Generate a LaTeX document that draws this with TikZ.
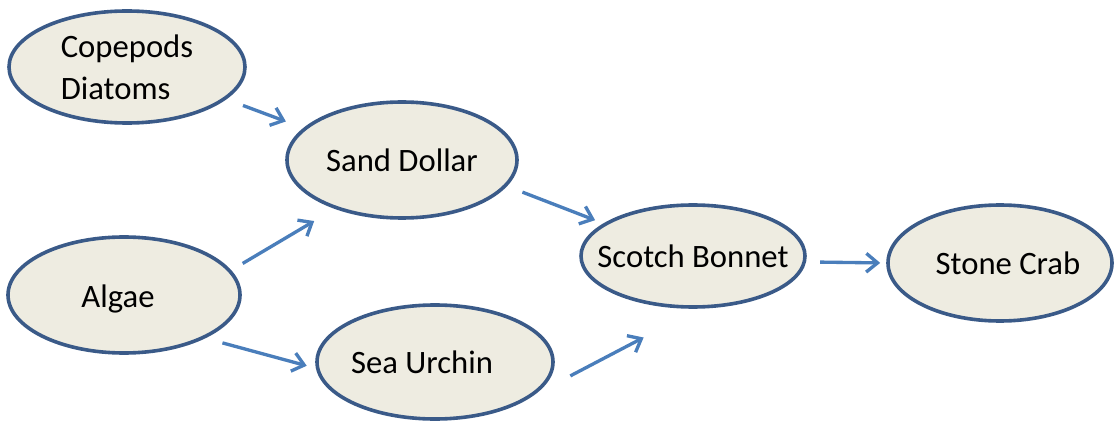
\documentclass[tikz,border=0pt]{standalone}
\usepackage{fontspec}
\setmainfont{Carlito}
\usetikzlibrary{shapes.geometric,arrows.meta}
\definecolor{shellfill}{HTML}{EEECE1}
\definecolor{shelledge}{HTML}{3A5A88}
\definecolor{feedarrow}{HTML}{4A7EBB}
\begin{document}
\begin{tikzpicture}[x=0.75pt,y=-0.75pt,font=\fontsize{24.5}{31.5}\selectfont]
\tikzstyle{species}=[ellipse, draw=shelledge, fill=shellfill, line width=2.7pt, inner sep=0pt]
\tikzstyle{feeds}=[draw=feedarrow, line width=2.5pt, -{Straight Barb[length=8.5pt,width=14pt]}]
\useasboundingbox (0,0) rectangle (1114,424);
\node [species, minimum width=177pt, minimum height=84pt, label={[align=left]center:Copepods\\Diatoms}] (cd) at (127,67) {};
\node [species, minimum width=172.5pt, minimum height=87pt, label={center:Sand Dollar}] (sd) at (402,160) {};
\node [species, minimum width=174pt, minimum height=87pt, label={[xshift=-4.5pt,yshift=-3pt]center:Algae}] (al) at (124,295) {};
\node [species, minimum width=177pt, minimum height=85.5pt, label={[xshift=-9.75pt]center:Sea Urchin}] (su) at (435,362) {};
\node [species, minimum width=168pt, minimum height=76.5pt, label={center:Scotch Bonnet}] (sb) at (693,256) {};
\node [species, minimum width=168pt, minimum height=87pt, label={[xshift=6pt]center:Stone Crab}] (sc) at (1000,263) {};
\draw [feeds, shorten <=13.3pt, shorten >=14pt] (cd.-18) -- (sd.162);
\draw [feeds, shorten <=10pt, shorten >=17.9pt] (al.13.6) -- (sd.-144.5);
\draw [feeds, shorten <=13.3pt, shorten >=7.1pt] (al.-28.4) -- (su.-177.7);
\draw [feeds, shorten <=12.4pt, shorten >=6.7pt] (sd.-14.3) -- (sb.160.7);
\draw [feeds, shorten <=30pt, shorten >=46.5pt] (su.-18) -- (sb.-84.6);
\draw [feeds, shorten <=10.5pt, shorten >=4.5pt] (sb.-3.6) -- (sc.180);
\end{tikzpicture}
\end{document}
